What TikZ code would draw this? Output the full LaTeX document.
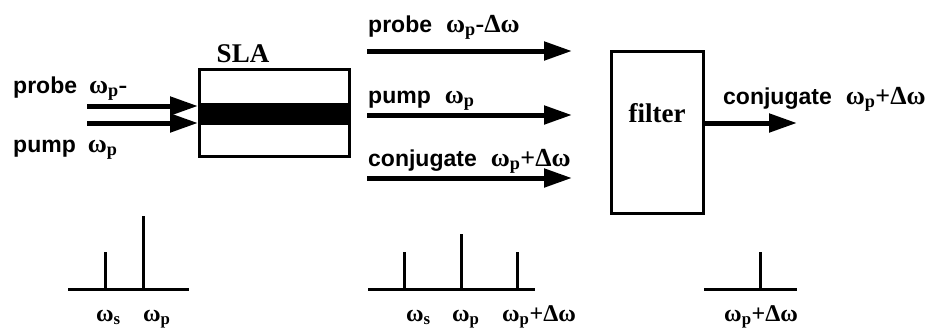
\documentclass[tikz,border=0pt]{standalone}
\usepackage{fontspec}
\setmainfont{Liberation Serif}
\setsansfont{Liberation Sans}
\usetikzlibrary{arrows.meta}
\newcommand{\omsub}[1]{{\rmfamily\bfseries\fontsize{26}{28}\selectfont ω\textsubscript{#1}}}
\newcommand{\omtail}[1]{{\rmfamily\bfseries\fontsize{26}{28}\selectfont #1}}
\tikzset{
  lbl/.style={font=\fontsize{23}{26}\selectfont\sffamily\bfseries, inner sep=0pt, anchor=base west},
  sym/.style={font=\fontsize{24}{26}\selectfont\rmfamily\bfseries, inner sep=0pt, anchor=base west},
  ttl/.style={font=\fontsize{27}{29}\selectfont\rmfamily\bfseries, inner sep=0pt, anchor=base},
  beam/.style={line width=5pt, -{Triangle[length=28pt,width=18pt]}},
  boxshape/.style={draw, line width=3pt, rectangle, inner sep=0pt},
  spec/.style={line width=3pt},
}
\begin{document}
\begin{tikzpicture}[x=1pt,y=-1pt]
\useasboundingbox (0,0) rectangle (931,330);
% SLA
\node[boxshape, minimum width=150pt, minimum height=87pt] (sla) at (274.5,113) {};
\fill (sla.west |- 0,103) rectangle (sla.east |- 0,125);
\node[ttl] (slat) at (243,62) {SLA};
% inputs
\coordinate (pin) at (87,106);
\coordinate (uin) at (87,123);
\draw[beam] (pin) -- (sla.west |- pin);
\draw[beam] (uin) -- (sla.west |- uin);
\node[lbl] (lprobe) at (13,93) {probe\hspace{12pt}\omsub{p}\omtail{-}};
\node[lbl] (lpump) at (13,152) {pump\hspace{12pt}\omsub{p}};
% outputs of SLA
\coordinate (o1s) at (367,51);  \coordinate (o1e) at (572,51);
\coordinate (o2s) at (367,115); \coordinate (o2e) at (572,115);
\coordinate (o3s) at (367,178); \coordinate (o3e) at (572,178);
\draw[beam] (o1s) -- (o1e);
\draw[beam] (o2s) -- (o2e);
\draw[beam] (o3s) -- (o3e);
\node[lbl] (l1) at (368,32) {probe\hspace{14pt}\omsub{p}\omtail{-Δω}};
\node[lbl] (l2) at (368,103) {pump\hspace{14pt}\omsub{p}};
\node[lbl] (l3) at (368,166) {conjugate\hspace{14pt}\omsub{p}\omtail{+Δω}};
% filter
\node[boxshape, minimum width=92pt, minimum height=162pt] (filt) at (657.5,132.5) {};
\node[ttl] (filtt) at (657,122) {filter};
\coordinate (fout) at (797,123);
\draw[beam] (filt.east |- fout) -- (fout);
\node[lbl] (l4) at (723,104) {conjugate\hspace{14pt}\omsub{p}\omtail{+Δω}};
% spectrum 1
\draw[spec] (68,289) -- (189,289);
\draw[spec] (105,289) -- (105,252);
\draw[spec] (143,289) -- (143,216);
\node[sym] (s1a) at (96,321) {ω\textsubscript{s}};
\node[sym] (s1b) at (143,321) {ω\textsubscript{p}};
% spectrum 2
\draw[spec] (368,289) -- (535,289);
\draw[spec] (404,289) -- (404,252);
\draw[spec] (461,289) -- (461,234);
\draw[spec] (517,289) -- (517,252);
\node[sym] (s2a) at (406,321) {ω\textsubscript{s}};
\node[sym] (s2b) at (452,321) {ω\textsubscript{p}};
\node[sym] (s2c) at (502,321) {ω\textsubscript{p}+Δω};
% spectrum 3
\draw[spec] (704,289) -- (797,289);
\draw[spec] (760,289) -- (760,252);
\node[sym] (s3a) at (724,321) {ω\textsubscript{p}+Δω};
\end{tikzpicture}
\end{document}
